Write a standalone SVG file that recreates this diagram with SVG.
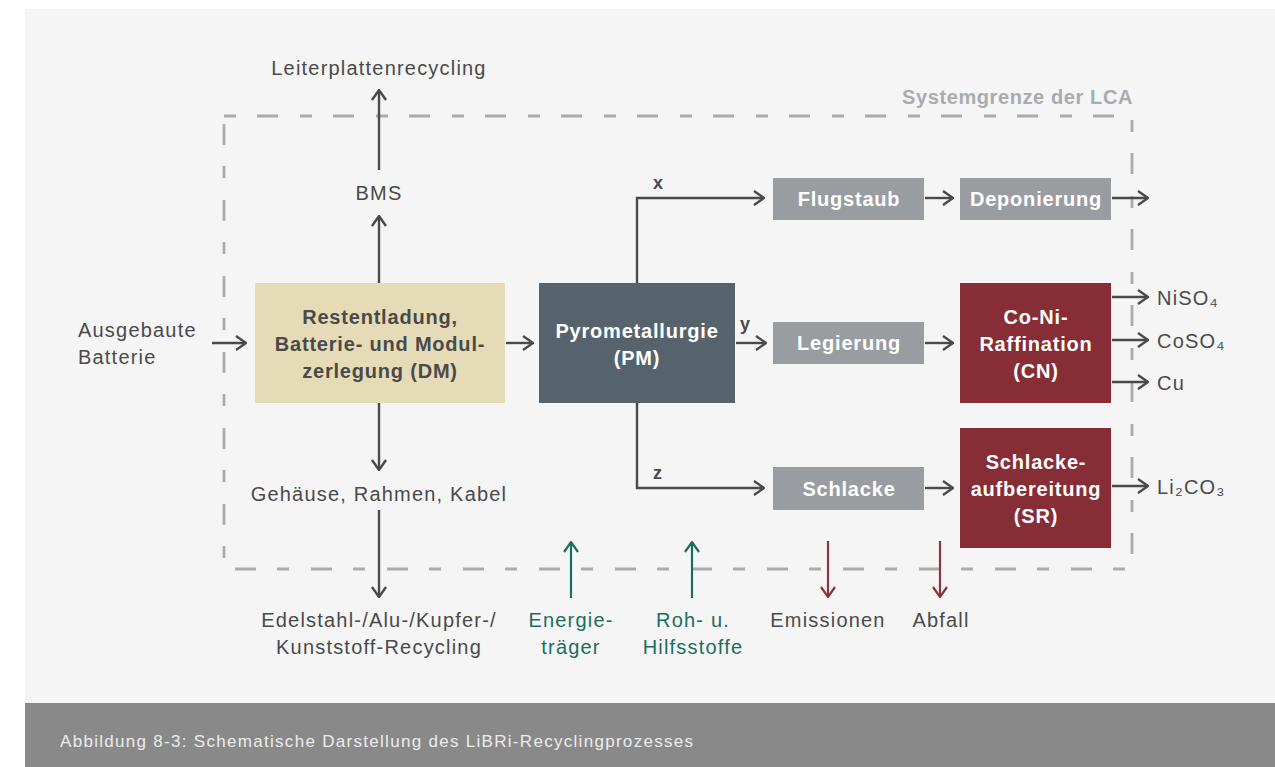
<svg xmlns="http://www.w3.org/2000/svg" width="1275" height="767" viewBox="0 0 1275 767">
<defs>
<marker id="ah" viewBox="0 0 12 16" refX="11" refY="8" markerWidth="12" markerHeight="16" markerUnits="userSpaceOnUse" orient="auto"><path d="M1,1 L11,8 L1,15" fill="none" stroke="#4a4a4a" stroke-width="2.4"/></marker>
<marker id="ahg" viewBox="0 0 12 16" refX="11" refY="8" markerWidth="12" markerHeight="16" markerUnits="userSpaceOnUse" orient="auto"><path d="M1,1 L11,8 L1,15" fill="none" stroke="#1b6e5f" stroke-width="2.2"/></marker>
<marker id="ahr" viewBox="0 0 12 16" refX="11" refY="8" markerWidth="12" markerHeight="16" markerUnits="userSpaceOnUse" orient="auto"><path d="M1,1 L11,8 L1,15" fill="none" stroke="#883540" stroke-width="2.2"/></marker>
<style>
text{font-family:"Liberation Sans",Arial,sans-serif;}
.lbl{font-size:20px;letter-spacing:1.2px;fill:#4a4a4a;}
.lblc{font-size:20px;letter-spacing:1.2px;fill:#4a4a4a;text-anchor:middle;}
.grn{font-size:20px;letter-spacing:1.2px;fill:#1b6e5f;text-anchor:middle;}
.bt{font-size:20px;letter-spacing:0.8px;font-weight:bold;text-anchor:middle;}
.dark{fill:#4a4a4a;}
.wht{fill:#ffffff;}
.xyz{font-size:18px;font-weight:bold;fill:#4a4a4a;}
.conn{fill:none;stroke:#4a4a4a;stroke-width:2.4;marker-end:url(#ah);}
.cg{fill:none;stroke:#1b6e5f;stroke-width:2.2;marker-end:url(#ahg);}
.cr{fill:none;stroke:#883540;stroke-width:2.2;marker-end:url(#ahr);}
</style>
</defs>
<rect x="0" y="0" width="1275" height="767" fill="#ffffff"/>
<rect x="25" y="9" width="1250" height="694" fill="#f5f5f5"/>
<rect x="25" y="703" width="1250" height="64" fill="#898989"/>
<text x="60" y="747" font-size="17" fill="#ececec" textLength="633" lengthAdjust="spacing">Abbildung 8-3: Schematische Darstellung des LiBRi-Recyclingprozesses</text>

<g id="systemgrenze">
<rect x="224" y="116" width="908" height="453" fill="none" stroke="#a9abaf" stroke-width="2.8" stroke-dasharray="12 21 21 22"/>
<text x="1133" y="104" font-size="20" font-weight="bold" letter-spacing="0.6" fill="#a9abaf" text-anchor="end">Systemgrenze der LCA</text>
</g>

<g id="connectors">
<path class="conn" d="M212,343 H246"/>
<path class="conn" d="M506,343 H533"/>
<path class="conn" d="M736,343 H766"/>
<path class="conn" d="M637,283 V198 H764"/>
<path class="conn" d="M637,403 V488 H764"/>
<path class="conn" d="M925,198 H953"/>
<path class="conn" d="M1112,198 H1148"/>
<path class="conn" d="M925,343 H953"/>
<path class="conn" d="M925,488 H953"/>
<path class="conn" d="M1112,297 H1148"/>
<path class="conn" d="M1112,340 H1148"/>
<path class="conn" d="M1112,382 H1148"/>
<path class="conn" d="M1112,486 H1148"/>
<path class="conn" d="M379,283 V216"/>
<path class="conn" d="M379,170 V90"/>
<path class="conn" d="M379,403 V470"/>
<path class="conn" d="M379,510 V597"/>
<path class="cg" d="M571,598 V542"/>
<path class="cg" d="M692,598 V542"/>
<path class="cr" d="M828,541 V597"/>
<path class="cr" d="M940,541 V597"/>
<text class="xyz" x="653" y="189">x</text>
<text class="xyz" x="740" y="330">y</text>
<text class="xyz" x="653" y="479">z</text>
</g>

<g id="input"><text class="lbl" x="78" y="337">Ausgebaute</text><text class="lbl" x="78" y="364">Batterie</text></g>

<g id="dm">
<rect x="255" y="283" width="250" height="120" fill="#e6dbb7"/>
<text class="bt dark" x="380" y="324">Restentladung,</text>
<text class="bt dark" x="380" y="351">Batterie- und Modul-</text>
<text class="bt dark" x="380" y="378">zerlegung (DM)</text>
</g>

<g id="pm">
<rect x="539" y="283" width="196" height="120" fill="#56636c"/>
<text class="bt wht" x="637" y="338">Pyrometallurgie</text>
<text class="bt wht" x="637" y="365">(PM)</text>
</g>

<g id="flugstaub"><rect x="773" y="178" width="151" height="42" fill="#999ca1"/><text class="bt wht" x="849" y="206">Flugstaub</text></g>
<g id="deponierung"><rect x="960" y="178" width="151" height="42" fill="#999ca1"/><text class="bt wht" x="1036" y="206">Deponierung</text></g>
<g id="legierung"><rect x="773" y="322" width="151" height="42" fill="#999ca1"/><text class="bt wht" x="849" y="350">Legierung</text></g>
<g id="schlacke"><rect x="773" y="467" width="151" height="43" fill="#999ca1"/><text class="bt wht" x="849" y="496">Schlacke</text></g>

<g id="cn">
<rect x="960" y="283" width="151" height="120" fill="#862d36"/>
<text class="bt wht" x="1036" y="324">Co-Ni-</text>
<text class="bt wht" x="1036" y="351">Raffination</text>
<text class="bt wht" x="1036" y="378">(CN)</text>
</g>

<g id="sr">
<rect x="960" y="428" width="151" height="120" fill="#862d36"/>
<text class="bt wht" x="1036" y="469">Schlacke-</text>
<text class="bt wht" x="1036" y="496">aufbereitung</text>
<text class="bt wht" x="1036" y="523">(SR)</text>
</g>

<g id="outputs">
<text class="lbl" x="1157" y="305">NiSO₄</text>
<text class="lbl" x="1157" y="348">CoSO₄</text>
<text class="lbl" x="1157" y="390">Cu</text>
<text class="lbl" x="1157" y="494">Li₂CO₃</text>
</g>

<g id="bms"><text class="lblc" x="379" y="200">BMS</text></g>
<g id="leiterplatten"><text class="lblc" x="379" y="75">Leiterplattenrecycling</text></g>
<g id="gehaeuse"><text class="lblc" x="379" y="501">Gehäuse, Rahmen, Kabel</text></g>
<g id="edelstahl"><text class="lblc" x="379" y="627">Edelstahl-/Alu-/Kupfer-/</text><text class="lblc" x="379" y="654">Kunststoff-Recycling</text></g>
<g id="energie"><text class="grn" x="571" y="627">Energie-</text><text class="grn" x="571" y="654">träger</text></g>
<g id="roh"><text class="grn" x="693" y="627">Roh- u.</text><text class="grn" x="693" y="654">Hilfsstoffe</text></g>
<g id="emissionen"><text class="lblc" x="828" y="627">Emissionen</text></g>
<g id="abfall"><text class="lblc" x="941" y="627">Abfall</text></g>
</svg>
